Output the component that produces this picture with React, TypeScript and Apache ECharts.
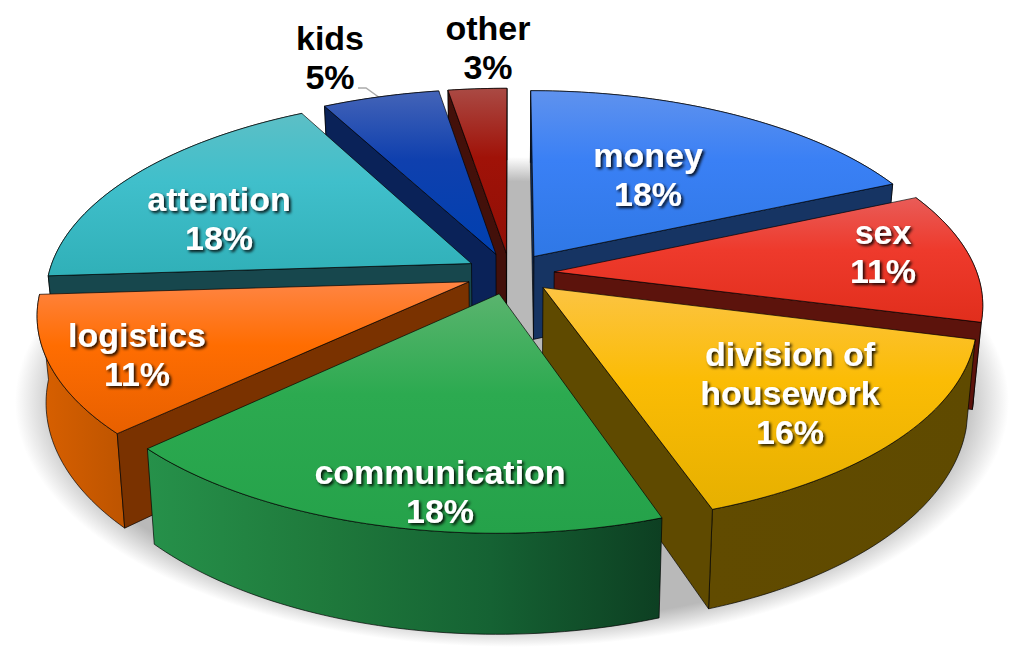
import React, { useEffect, useRef } from "react";
import * as echarts from "echarts";

const CATEGORIES = ["money", "sex", "division of\nhousework", "communication", "logistics", "attention", "kids", "other"];
const VALUES = [18.4, 10.6, 15.7, 18.3, 11, 18.2, 5.2, 2.6];

// styling: [top stops], [outer wall stops, left to right], start wall, end wall
const STYLES = [
  { top: ["#5f92ee", "#3a80f5", "#2f78e6"], rim: ["#1c4a90", "#173665"], start: "#12305f", end: "#163463" },
  { top: ["#e95c58", "#ee3a2c", "#e12e1c"], rim: ["#8c1b10", "#6e140c"], start: "#5c130c", end: "#5c130c" },
  { top: ["#fcc443", "#fbbc05", "#e6b000"], rim: ["#614b00", "#5f4a00"], start: "#644d0c", end: "#5f4a00" },
  { top: ["#5ab46e", "#2caa50", "#25a24a"], rim: ["#26914a", "#1f7a3c", "#156233", "#0d3f22"], start: "#0f4a27", end: "#0f4a27" },
  { top: ["#ff8544", "#ff6d01", "#e86000"], rim: ["#d96000", "#bd5400"], start: "#7a3200", end: "#853600" },
  { top: ["#5cbfc6", "#40bfcb", "#30b0b8"], rim: ["#1f6a70", "#1a5055"], start: "#17474d", end: "#17474d" },
  { top: ["#4464b8", "#0f40ae", "#0040b0"], rim: ["#0e2a66", "#0e2a66"], start: "#0a2258", end: "#0a2258" },
  { top: ["#aa4a44", "#a01208", "#900f05"], rim: ["#4a120c", "#4a120c"], start: "#43100a", end: "#43100a" },
];

const LABEL_CENTERS = [
  [648, 174], [883, 251], [790, 393], [440, 491], [137, 354], [219, 218], [330, 57], [488, 47],
];
const DARK_LABELS = [false, false, false, false, false, false, true, true];

// projection of the tilted pie
const CX = 510, CY = 273.5, RX = 423, RY = 196, PERSP = 0.153, EXPLODE = 0.105, HEIGHT = 84, BASE_SHRINK = 0.981;

const TOTAL = VALUES.reduce((a, b) => a + b, 0);
const project = (X: number, Y: number, base: boolean): number[] => {
  const w = 1 / (1 - PERSP * Y);
  const sx = RX * X * w;
  const sy = CY + RY * Y * w;
  return base ? [CX + sx * BASE_SHRINK, sy + HEIGHT * w] : [CX + sx, sy];
};
const area = (p: number[][]) => {
  let s = 0;
  for (let i = 0; i < p.length; i++) {
    const q = p[(i + 1) % p.length];
    s += p[i][0] * q[1] - q[0] * p[i][1];
  }
  return s;
};

const slices = VALUES.map((v, i) => {
  const before = VALUES.slice(0, i).reduce((a, b) => a + b, 0);
  const a0 = (before / TOTAL) * Math.PI * 2;
  const a1 = ((before + v) / TOTAL) * Math.PI * 2;
  return { i, a0, a1, mid: (a0 + a1) / 2 };
});
const drawOrder = slices
  .slice()
  .sort((p, q) => -Math.cos(p.mid) + Math.cos(q.mid))
  .map((s) => s.i);

const stops = (colors: string[]) => ({
  colorStops: colors.map((color, k) => ({ offset: k / (colors.length - 1), color })),
});

const renderSlice = (_: any, api: any) => {
  const idx = api.value(0) as number;
  const s = slices[idx];
  const st = STYLES[idx];
  const ox = EXPLODE * Math.sin(s.mid);
  const oy = -EXPLODE * Math.cos(s.mid);
  const arc = (base: boolean) => {
    const n = Math.ceil((s.a1 - s.a0) / 0.02);
    const out: number[][] = [];
    for (let k = 0; k <= n; k++) {
      const t = s.a0 + ((s.a1 - s.a0) * k) / n;
      out.push(project(ox + Math.sin(t), oy - Math.cos(t), base));
    }
    return out;
  };
  const topArc = arc(false);
  const baseArc = arc(true);
  const apexTop = project(ox, oy, false);
  const apexBase = project(ox, oy, true);
  const edge = { stroke: "rgba(0,0,0,0.85)", lineWidth: 0.8, lineJoin: "round" };

  const children: any[] = [];
  children.push({
    type: "polygon",
    shape: { points: topArc.concat(baseArc.slice().reverse()) },
    style: { fill: { type: "linear", x: 0, y: 0, x2: 1, y2: 0, ...stops(st.rim) }, ...edge },
  });
  const startWall = [apexTop, topArc[0], baseArc[0], apexBase];
  const endWall = [topArc[topArc.length - 1], apexTop, apexBase, baseArc[baseArc.length - 1]];
  if (area(startWall) < 0) {
    children.push({ type: "polygon", shape: { points: startWall }, style: { fill: st.start, ...edge } });
  }
  if (area(endWall) < 0) {
    children.push({ type: "polygon", shape: { points: endWall }, style: { fill: st.end, ...edge } });
  }
  children.push({
    type: "polygon",
    shape: { points: [apexTop].concat(topArc) },
    style: {
      fill: {
        type: "linear", x: 0, y: 0, x2: 0, y2: 1,
        colorStops: [
          { offset: 0, color: st.top[0] },
          { offset: 0.42, color: st.top[1] },
          { offset: 1, color: st.top[2] },
        ],
      },
      ...edge,
    },
  });
  return { type: "group", children };
};

const renderLabel = (_: any, api: any) => {
  const idx = api.value(0) as number;
  const [x, y] = LABEL_CENTERS[idx];
  const dark = DARK_LABELS[idx];
  return {
    type: "text",
    style: {
      text: `${CATEGORIES[idx]}\n${Math.round(VALUES[idx])}%`,
      x,
      y,
      align: "center",
      verticalAlign: "middle",
      fill: dark ? "#000000" : "#ffffff",
      fontFamily: "Liberation Sans",
      fontWeight: "bold",
      fontSize: 34,
      lineHeight: 39,
      ...(dark
        ? {}
        : { textShadowColor: "rgba(0,0,0,0.9)", textShadowBlur: 3, textShadowOffsetX: 2, textShadowOffsetY: 2 }),
    },
  };
};

export default function App() {
  const ref = useRef<HTMLDivElement>(null);
  useEffect(() => {
    const chart = echarts.init(ref.current!, undefined, { renderer: "svg" });
    chart.setOption({
      animation: false,
      backgroundColor: "#ffffff",
      graphic: {
        elements: [
          {
            type: "ellipse",
            silent: true,
            shape: { cx: 512, cy: 402, rx: 497, ry: 245 },
            style: {
              fill: {
                type: "radial", x: 0.5, y: 0.5, r: 0.5,
                colorStops: [
                  { offset: 0, color: "#b9b9b9" },
                  { offset: 0.9, color: "#b9b9b9" },
                  { offset: 1, color: "#ffffff" },
                ],
              },
            },
          },
          {
            type: "polyline",
            silent: true,
            shape: { points: [[358, 88], [366, 88], [380, 98]] },
            style: { stroke: "#aaaaaa", lineWidth: 1.5, fill: "none" },
          },
        ],
      },
      series: [
        {
          type: "custom",
          coordinateSystem: "none",
          z: 3,
          silent: true,
          data: drawOrder.map((i) => [i]),
          renderItem: renderSlice,
        },
        {
          type: "custom",
          coordinateSystem: "none",
          z: 5,
          silent: true,
          data: CATEGORIES.map((_, i) => [i]),
          renderItem: renderLabel,
        },
      ],
    });
    return () => chart.dispose();
  }, []);
  return <div ref={ref} style={{ position: "fixed", left: 0, top: 0, width: 1016, height: 662 }} />;
}
